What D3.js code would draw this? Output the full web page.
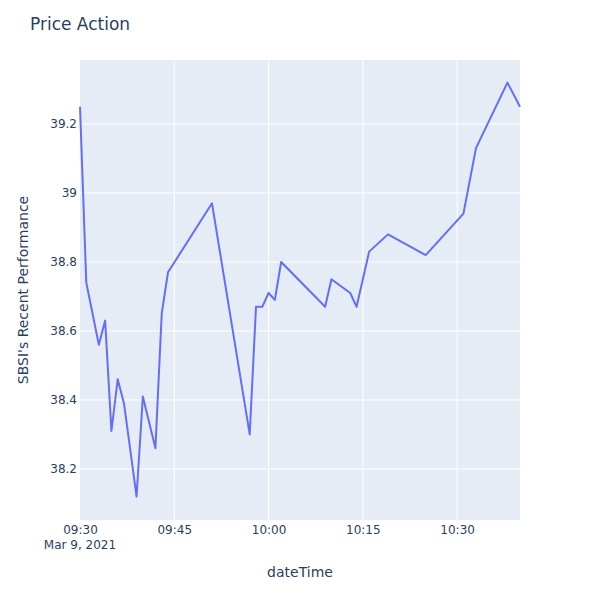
<!DOCTYPE html>
<html><head><meta charset="utf-8">
<script src="https://cdn.jsdelivr.net/npm/d3@7"></script>
<style>body{margin:0;background:#fff}svg{display:block}text{font-family:"DejaVu Sans",Verdana,sans-serif;fill:#2a3f5f}</style>
</head><body>
<script>
const times = ["09:30","09:31","09:33","09:34","09:35","09:36","09:37","09:39","09:40","09:42","09:43","09:44","09:51","09:57","09:58","09:59","10:00","10:01","10:02","10:09","10:10","10:13","10:14","10:15","10:16","10:19","10:25","10:31","10:33","10:38","10:40"];
const prices = [39.25,38.74,38.56,38.63,38.31,38.46,38.39,38.12,38.41,38.26,38.65,38.77,38.97,38.30,38.67,38.67,38.71,38.69,38.80,38.67,38.75,38.71,38.67,38.75,38.83,38.88,38.82,38.94,39.13,39.32,39.25];
const yTicks = [38.2,38.4,38.6,38.8,39.0,39.2];
const xTickTimes = ["09:30","09:45","10:00","10:15","10:30"];
const dateStr = "2021-03-09";

const W=600,H=600,L=80,R=520,T=60,B=520;
const parse = t => new Date(dateStr+"T"+t+":00");
const data = times.map((t,i)=>({t:parse(t),v:prices[i]}));
const svg = d3.select("body").append("svg").attr("width",W).attr("height",H);
const x = d3.scaleTime().domain([parse("09:30"),parse("10:40")]).range([L,R]);
const y = d3.scaleLinear().domain([38.052,39.3855]).range([B,T]);

svg.append("rect").attr("x",L).attr("y",T).attr("width",R-L).attr("height",B-T).attr("fill","#E5ECF6");
// grid
svg.append("g").selectAll("line").data(yTicks).join("line")
  .attr("x1",L).attr("x2",R).attr("y1",d=>y(d)).attr("y2",d=>y(d)).attr("stroke","#fff").attr("stroke-width",1);
svg.append("g").selectAll("line").data(xTickTimes.slice(1)).join("line")
  .attr("y1",T).attr("y2",B).attr("x1",d=>x(parse(d))).attr("x2",d=>x(parse(d))).attr("stroke","#fff").attr("stroke-width",1);

// axes via d3
const yAxis = d3.axisLeft(y).tickValues(yTicks).tickSize(0).tickPadding(3).tickFormat(d=>d3.format("~g")(d));
const gy = svg.append("g").attr("transform",`translate(${L},0)`).call(yAxis);
gy.select(".domain").remove();
gy.selectAll("text").attr("font-size",12).style("font-family","DejaVu Sans").attr("fill","#2a3f5f");

const xAxis = d3.axisBottom(x).tickValues(xTickTimes.map(parse)).tickSize(0).tickPadding(5).tickFormat(d3.timeFormat("%H:%M"));
const gx = svg.append("g").attr("transform",`translate(0,${B})`).call(xAxis);
gx.select(".domain").remove();
gx.selectAll("text").attr("font-size",12).style("font-family","DejaVu Sans").attr("fill","#2a3f5f");
svg.append("text").attr("x",x(parse("09:30"))).attr("y",548.5).attr("text-anchor","middle").attr("font-size",12).text("Mar 9, 2021");

// line
svg.append("path").datum(data)
  .attr("d",d3.line().x(d=>x(d.t)).y(d=>y(d.v)))
  .attr("fill","none").attr("stroke","#636EFA").attr("stroke-width",2).attr("stroke-linejoin","round");

// titles
svg.append("text").attr("x",30).attr("y",30).attr("font-size",17).text("Price Action");
svg.append("text").attr("x",300).attr("y",577).attr("text-anchor","middle").attr("font-size",14).text("dateTime");
svg.append("text").attr("transform","translate(28,290) rotate(-90)").attr("text-anchor","middle").attr("font-size",14).text("SBSI's Recent Performance");
</script>
</body></html>
